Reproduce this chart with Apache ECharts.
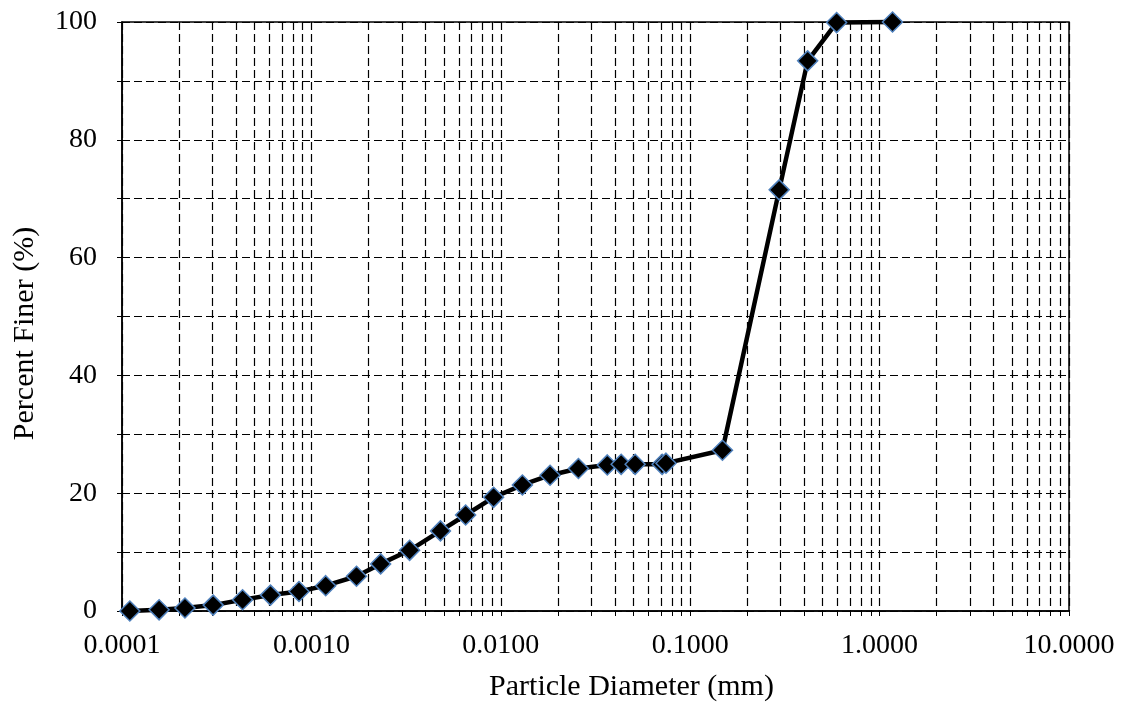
<!DOCTYPE html>
<html>
<head>
<meta charset="utf-8">
<script src="https://cdn.jsdelivr.net/npm/echarts@6/dist/echarts.min.js"></script>
<style>html,body{margin:0;padding:0;background:#fff}#c{width:1125px;height:707px}</style>
</head>
<body>
<div id="c"></div>
<script>
// Data
const diameters = [0.00011, 0.000157, 0.000215, 0.000303, 0.000433, 0.000608, 0.00086, 0.00119, 0.00173, 0.00232, 0.0033, 0.0048, 0.00652, 0.00916, 0.013, 0.0182, 0.0257, 0.0365, 0.0432, 0.0512, 0.0711, 0.0745, 0.148, 0.295, 0.417, 0.593, 1.17];
const percentFiner = [0, 0.2, 0.5, 1.0, 1.9, 2.7, 3.3, 4.3, 5.9, 8.0, 10.3, 13.6, 16.3, 19.3, 21.4, 23.05, 24.2, 24.8, 24.9, 24.9, 24.9, 25.1, 27.3, 71.5, 93.4, 99.9, 100];
const xDecades = [0.0001, 0.001, 0.01, 0.1, 1, 10];
const minorMultipliers = [2, 3, 4, 5, 6, 7, 8, 9];
const yTicks = [0, 20, 40, 60, 80, 100];

// grid/tick positions at 1..9 x each decade
const xTickValues = [];
xDecades.forEach((d, i) => {
  xTickValues.push(d);
  if (i < xDecades.length - 1) minorMultipliers.forEach(m => xTickValues.push(+(d * m).toPrecision(6)));
});

const FONT = '"Liberation Serif", "Times New Roman", serif';
const DASH = [8, 4];
const chart = echarts.init(document.getElementById('c'), null, {renderer: 'canvas'});
chart.setOption({
  animation: false,
  backgroundColor: '#fff',
  grid: {left: 122, right: 56, top: 22, bottom: 95, show: true, borderColor: '#000', borderWidth: 1.5, backgroundColor: 'transparent'},
  xAxis: {
    type: 'log', logBase: 10, min: xDecades[0], max: xDecades[xDecades.length - 1],
    name: 'Particle Diameter (mm)', nameLocation: 'middle', nameGap: 61,
    nameTextStyle: {fontFamily: FONT, fontSize: 30, color: '#000', padding: [0, 0, 0, 72]},
    axisLine: {show: true, onZero: false, lineStyle: {color: '#000', width: 1.5}},
    axisTick: {show: true, length: 5, customValues: xTickValues, lineStyle: {color: '#000', width: 1}},
    axisLabel: {customValues: xDecades, margin: 21, fontFamily: FONT, fontSize: 28, color: '#000',
      formatter: v => Number(v).toFixed(4)},
    splitLine: {show: true, lineStyle: {color: '#000', width: 1.2, type: DASH}},
    minorTick: {show: false}
  },
  yAxis: {
    type: 'value', min: yTicks[0], max: yTicks[yTicks.length - 1], interval: 20,
    name: 'Percent Finer (%)', nameLocation: 'middle', nameGap: 82, nameRotate: 90,
    nameTextStyle: {fontFamily: FONT, fontSize: 30, color: '#000', padding: [0, 34, 0, 0]},
    axisLine: {show: true, lineStyle: {color: '#000', width: 1.5}},
    axisTick: {show: true, length: 5, lineStyle: {color: '#000', width: 1}},
    minorTick: {show: true, splitNumber: 2, length: 5, lineStyle: {color: '#000', width: 1}},
    axisLabel: {margin: 25, fontFamily: FONT, fontSize: 28, color: '#000'},
    splitLine: {show: true, lineStyle: {color: '#000', width: 1.2, type: DASH}},
    minorSplitLine: {show: true, lineStyle: {color: '#000', width: 1.2, type: DASH}}
  },
  series: [{
    type: 'line',
    data: diameters.map((d, i) => [d, percentFiner[i]]),
    symbol: 'diamond', symbolSize: 20,
    lineStyle: {color: '#000', width: 4.5},
    itemStyle: {color: '#000', borderColor: '#4F81BD', borderWidth: 1.5},
    clip: false, z: 10
  }]
});
</script>
</body>
</html>
